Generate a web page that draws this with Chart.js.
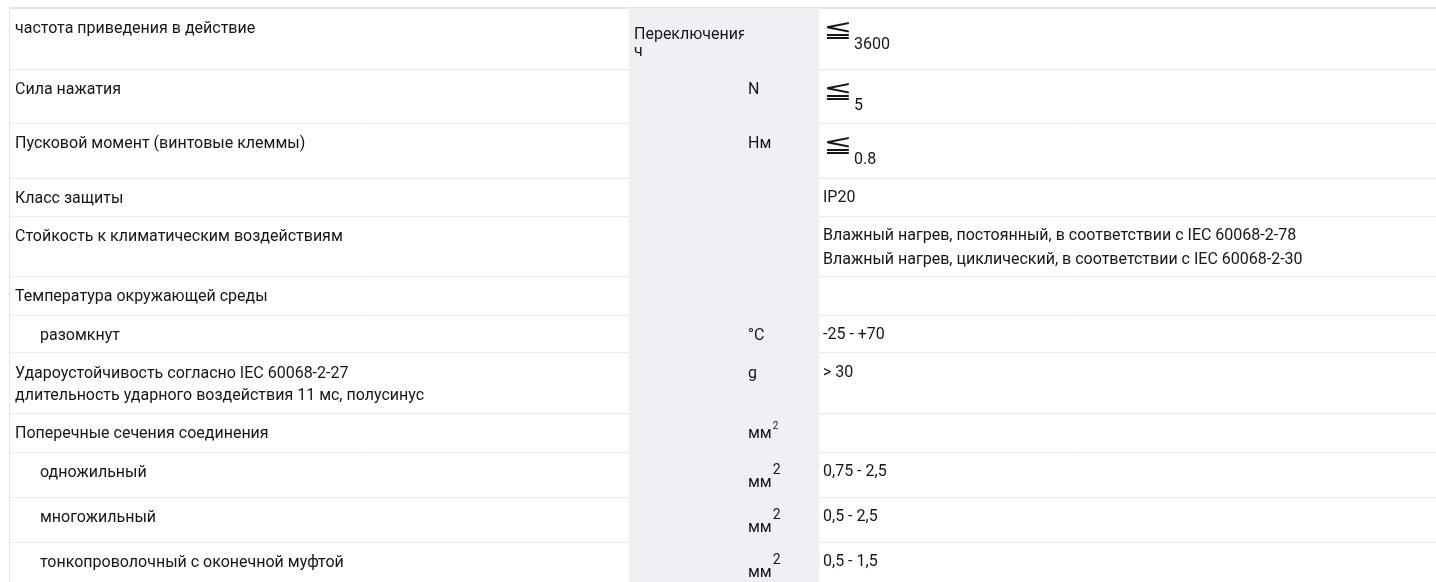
<!DOCTYPE html>
<html>
<head>
<meta charset="utf-8">
<script src="https://cdn.jsdelivr.net/npm/chart.js@4.4.1/dist/chart.umd.min.js"></script>
<style>
  html, body { margin: 0; padding: 0; background: #fff; }
  #wrap { width: 1436px; height: 582px; position: relative; }
</style>
</head>
<body>
<div id="wrap"><canvas id="tbl"></canvas></div>
<script>
// --- данные таблицы ---
const rowLabels = [
  ['частота приведения в действие'],
  ['Сила нажатия'],
  ['Пусковой момент (винтовые клеммы)'],
  ['Класс защиты'],
  ['Стойкость к климатическим воздействиям'],
  ['Температура окружающей среды'],
  ['разомкнут'],
  ['Удароустойчивость согласно IEC 60068-2-27', 'длительность ударного воздействия 11 мс, полусинус'],
  ['Поперечные сечения соединения'],
  ['одножильный'],
  ['многожильный'],
  ['тонкопроволочный с оконечной муфтой'],
];
const rowIndent = [0, 0, 0, 0, 0, 0, 1, 0, 0, 1, 1, 1];
const unitNotes = [['Переключения', 'ч'], [], [], [], [], [], [], [], [], [], [], []];
const units = ['', 'N', 'Нм', '', '', '', '°C', 'g', 'мм', 'мм', 'мм', 'мм'];
const unitSup = ['', '', '', '', '', '', '', '', '2', '2', '2', '2'];
const valuePrefix = ['≦', '≦', '≦', '', '', '', '', '', '', '', '', ''];
const values = [
  ['3600'], ['5'], ['0.8'], ['IP20'],
  ['Влажный нагрев, постоянный, в соответствии с IEC 60068-2-78',
   'Влажный нагрев, циклический, в соответствии с IEC 60068-2-30'],
  [], ['-25 - +70'], ['> 30'], [], ['0,75 - 2,5'], ['0,5 - 2,5'], ['0,5 - 1,5'],
];

// --- разметка (px таблицы) ---
const rowHeights = [61, 54, 55, 38, 60, 39, 38, 60, 39, 45, 45, 45];
const colEdges = [0, 620, 735, 810, 1427];
const TABLE_H = 574;
const rowEdges = rowHeights.reduce((a, h) => { a.push(a[a.length - 1] + h); return a; }, [0]);

const FONT = '"Roboto", "Liberation Sans", sans-serif';
const TXT = '#161616';

const cellText = {
  id: 'cellText',
  afterDraw(chart) {
    const { ctx } = chart;
    const xs = chart.scales.x, ys = chart.scales.rows;
    const X = v => xs.getPixelForValue(v);
    const Y = v => ys.getPixelForValue(v);
    ctx.save();
    ctx.fillStyle = TXT;
    ctx.textBaseline = 'middle';
    ctx.font = '16px ' + FONT;

    rowLabels.forEach((lines, i) => {
      const top = Y(rowEdges[i]);
      const x = X(colEdges[0]) + (rowIndent[i] ? 31 : 6);
      lines.forEach((t, k) => ctx.fillText(t, x, top + 21 + k * 22));
    });

    // примечание к единице, обрезано по ячейке
    unitNotes.forEach((lines, i) => {
      if (!lines.length) return;
      const top = Y(rowEdges[i]);
      ctx.save();
      ctx.beginPath();
      ctx.rect(X(colEdges[1]), top, X(colEdges[2]) - X(colEdges[1]), Y(rowEdges[i + 1]) - top);
      ctx.clip();
      lines.forEach((t, k) => ctx.fillText(t, X(colEdges[1]) + 5, top + 27 + k * 17));
      ctx.restore();
    });

    units.forEach((u, i) => {
      if (!u) return;
      const top = Y(rowEdges[i]);
      const x = X(colEdges[2]) + 4;
      const big = unitSup[i] && rowHeights[i] > 40;
      const y = top + (big ? 31 : 21);
      ctx.font = '16px ' + FONT;
      ctx.fillText(u, x, y);
      if (unitSup[i]) {
        const w = ctx.measureText(u).width;
        ctx.font = (big ? '14px ' : '10px ') + FONT;
        ctx.fillText(unitSup[i], x + w + 1, big ? top + 18 : top + 13);
      }
    });

    values.forEach((lines, i) => {
      const top = Y(rowEdges[i]);
      let x = X(colEdges[3]) + 4;
      if (valuePrefix[i]) {
        ctx.save();
        ctx.translate(x, top + 23);
        ctx.scale(1.45, 1);
        ctx.font = '24px "DejaVu Sans", sans-serif';
        ctx.fillText(valuePrefix[i], 0, 0);
        ctx.restore();
        x += 31;
        ctx.font = '16px ' + FONT;
        lines.forEach(t => ctx.fillText(t, x, top + 37));
        return;
      }
      ctx.font = '16px ' + FONT;
      lines.forEach((t, k) => ctx.fillText(t, x, top + 20 + k * 24));
    });
    ctx.restore();
  }
};

new Chart(document.getElementById('tbl'), {
  type: 'bar',
  data: {
    datasets: [{
      // серая колонка единиц измерения
      data: [{ y: TABLE_H / 2, x: [colEdges[1], colEdges[3]] }],
      backgroundColor: '#eff0f4',
      borderWidth: 0,
      barPercentage: 1,
      categoryPercentage: 1,
      yAxisID: 'y',
    }],
  },
  options: {
    indexAxis: 'y',
    responsive: true,
    maintainAspectRatio: false,
    animation: false,
    events: [],
    layout: { padding: { top: 8, left: 9, right: 0, bottom: 0 } },
    plugins: { legend: { display: false }, tooltip: { enabled: false } },
    scales: {
      x: {
        type: 'linear', min: colEdges[0], max: colEdges[4], z: 1, offset: false,
        afterBuildTicks: s => { s.ticks = [{ value: colEdges[0] }, { value: colEdges[2] }]; },
        ticks: { display: false },
        border: { display: false },
        grid: {
          offset: false,
          drawTicks: false,
          color: c => c.index === 0 ? '#e6e6e6' : '#f4f4f7',
          lineWidth: 1,
        },
      },
      y: {
        type: 'linear', min: 0, max: TABLE_H, reverse: true, display: false, offset: false,
        grid: { offset: false },
        afterBuildTicks: s => { s.ticks = [{ value: 0 }, { value: TABLE_H }]; },
      },
      rows: {
        type: 'linear', min: 0, max: TABLE_H, reverse: true, position: 'left', z: 1, offset: false,
        afterBuildTicks: s => { s.ticks = rowEdges.filter(v => v < TABLE_H).map(v => ({ value: v })); },
        ticks: { display: false },
        border: { display: false },
        grid: {
          offset: false,
          drawTicks: false,
          color: c => c.index === 0 ? '#e4e4e4' : '#ebebeb',
          lineWidth: c => c.index === 0 ? 2 : 1,
        },
      },
    },
  },
  plugins: [cellText],
});
</script>
</body>
</html>
